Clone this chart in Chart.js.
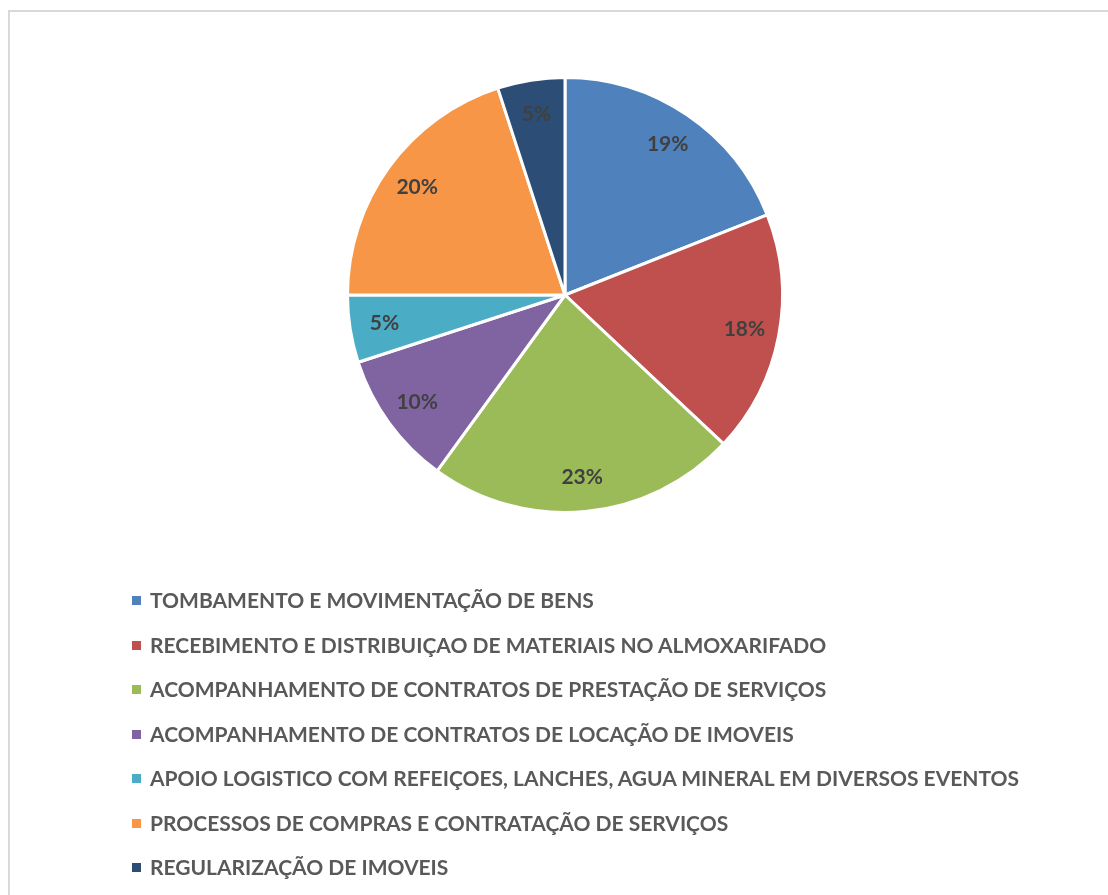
<!DOCTYPE html>
<html>
<head>
<meta charset="utf-8">
<script src="https://cdn.jsdelivr.net/npm/chart.js@4/dist/chart.umd.min.js"></script>
<style>
  body { margin: 0; background: #fff; font-family: Lato, "Open Sans", sans-serif; }
  #frame { position: absolute; left: 8px; top: 10px; width: 1100px; height: 885px;
           border-top: 2px solid #d9d9d9; border-left: 2px solid #d9d9d9; box-sizing: border-box; }
  #pie { position: absolute; left: 0; top: 0; }
  #legend { position: absolute; left: 132px; top: 586px; margin: 0; padding: 0; list-style: none; }
  #legend li { height: 44.5px; line-height: 28px; font-size: 21px; font-weight: 700; color: #595959; white-space: nowrap; }
  #legend span { display: inline-block; width: 9px; height: 9px; margin-right: 9px; vertical-align: 3px; }
</style>
</head>
<body>
<div id="frame"></div>
<canvas id="pie" width="1108" height="590"></canvas>
<ul id="legend"></ul>
<script>
var categorias = [
  'TOMBAMENTO E MOVIMENTAÇÃO DE BENS',
  'RECEBIMENTO E DISTRIBUIÇAO DE MATERIAIS NO ALMOXARIFADO',
  'ACOMPANHAMENTO DE CONTRATOS DE PRESTAÇÃO DE SERVIÇOS',
  'ACOMPANHAMENTO DE CONTRATOS DE LOCAÇÃO DE IMOVEIS',
  'APOIO LOGISTICO COM REFEIÇOES, LANCHES, AGUA MINERAL EM DIVERSOS EVENTOS',
  'PROCESSOS DE COMPRAS E CONTRATAÇÃO DE SERVIÇOS',
  'REGULARIZAÇÃO DE IMOVEIS'
];
var percentuais = [19, 18, 23, 10, 5, 20, 5];
var cores = ['#4f81bd', '#c0504d', '#9bbb59', '#8064a2', '#4bacc6', '#f79646', '#2c4d75'];

// rotulos de % dentro das fatias
var rotulos = {
  id: 'rotulos',
  afterDatasetsDraw: function(chart) {
    var ctx = chart.ctx;
    var meta = chart.getDatasetMeta(0);
    ctx.save();
    ctx.font = 'bold 21px Lato';
    ctx.fillStyle = '#404040';
    ctx.textAlign = 'center';
    ctx.textBaseline = 'middle';
    meta.data.forEach(function(arc, i) {
      var ang = (arc.startAngle + arc.endAngle) / 2;
      var r = arc.outerRadius * 0.84;
      ctx.fillText(percentuais[i] + '%', arc.x + Math.cos(ang) * r, arc.y + Math.sin(ang) * r);
    });
    ctx.restore();
  }
};

var ctx_pie = document.getElementById('pie');
var grafico = new Chart(ctx_pie, {
  type: 'pie',
  data: {
    labels: categorias,
    datasets: [{
      data: percentuais,
      backgroundColor: cores,
      borderColor: '#ffffff',
      borderWidth: 3,
      hoverOffset: 0
    }]
  },
  options: {
    responsive: false,
    animation: false,
    layout: { padding: { top: 76, bottom: 76, left: 22 } },
    plugins: {
      legend: { display: false },
      tooltip: { enabled: false }
    }
  },
  plugins: [rotulos]
});

var lista = document.getElementById('legend');
categorias.forEach(function(nome, i) {
  var li = document.createElement('li');
  var sq = document.createElement('span');
  sq.style.background = cores[i];
  li.appendChild(sq);
  li.appendChild(document.createTextNode(nome));
  lista.appendChild(li);
});
</script>
</body>
</html>
